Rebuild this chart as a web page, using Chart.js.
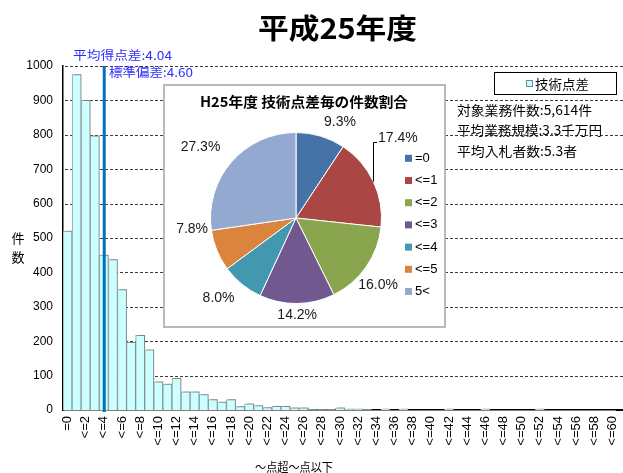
<!DOCTYPE html>
<html>
<head>
<meta charset="utf-8">
<script src="https://cdn.jsdelivr.net/npm/chart.js@4.4.1/dist/chart.umd.min.js"></script>
<style>
  html, body { margin: 0; padding: 0; background: #fff; }
  #wrap { position: relative; width: 623px; height: 473px; overflow: hidden; }
  #main { position: absolute; left: 0; top: 0; }
  #inset { position: absolute; left: 163px; top: 84px; width: 283px; height: 244px;
           box-sizing: border-box; border: 2px solid #b9b9b9; background: #fff; }
  #pie { position: absolute; left: 0; top: 0; }
</style>
</head>
<body>
<div id="wrap">
  <canvas id="main" width="623" height="473"></canvas>
  <div id="inset"><canvas id="pie" width="279" height="240"></canvas></div>
</div>
<script>
// Score-difference bins: "=0", "<=1" ... "<=60"
const scoreBins = ['=0'];
for (let k = 1; k <= 60; k++) scoreBins.push('<=' + k);

// Number of contracts in each bin (total 5,614)
const binCounts = [
  520, 975, 900, 797, 450, 437, 350, 197, 217, 175,
   82,  75,  92,  53,  53,  45,  30,  23,  30,  10,
   18,  13,   7,  11,  11,   6,   6,   1,   1,   1,
    6,   3,   3,   1,   0,   3,   0,   3,   0,   0,
    0,   0,   3,   0,   0,   0,   3,   0,   0,   0,
    0,   0,   3,   0,   0,   0,   0,   0,   0,   0,
    0
];

const meanScore = 4.04;
const stdDev = 4.60;

// Share of contracts per bin, in percent
const pieLabels = ['=0', '<=1', '<=2', '<=3', '<=4', '<=5', '5<'];
const pieShares = [9.3, 17.4, 16.0, 14.2, 8.0, 7.8, 27.3];
const pieColors = ['#4572A7', '#AA4643', '#89A54E', '#71588F', '#4198AF', '#DB843D', '#93A9CF'];

const infoLines = ['対象業務件数:5,614件', '平均業務規模:3.3千万円', '平均入札者数:5.3者'];

const JP = "'Noto Sans CJK JP', sans-serif";
const LAT = "'Liberation Sans', Arial, sans-serif";
Chart.defaults.font.family = LAT;
Chart.defaults.color = '#000';

// draw text squeezed/stretched horizontally to a given width
function fitText(ctx, text, x, y, width, align) {
  const m = ctx.measureText(text).width;
  ctx.save();
  ctx.translate(x, y);
  ctx.scale(width / m, 1);
  ctx.textAlign = align || 'left';
  ctx.fillText(text, 0, 0);
  ctx.restore();
}

const barShadow = {
  id: 'barShadow',
  beforeDatasetDraw(chart) {
    const ctx = chart.ctx;
    ctx.save();
    ctx.shadowColor = 'rgba(90,90,90,0.35)';
    ctx.shadowOffsetX = 2;
    ctx.shadowOffsetY = -1;
    ctx.shadowBlur = 0;
  },
  afterDatasetDraw(chart) { chart.ctx.restore(); }
};

const mainDecor = {
  id: 'mainDecor',
  beforeDatasetsDraw(chart) {
    // dashed value gridlines (3px dash, 2px gap) behind the bars
    const { ctx, chartArea, scales } = chart;
    const ys = scales.y;
    ctx.save();
    ctx.fillStyle = '#3c3c3c';
    ys.ticks.forEach(t => {
      if (t.value === 0) return;
      const py = Math.round(ys.getPixelForValue(t.value));
      for (let x = Math.round(chartArea.left) + 2; x < chart.width; x += 5) {
        ctx.fillRect(x, py, 3, 1);
      }
    });
    ctx.restore();
  },
  afterDraw(chart) {
    const { ctx, chartArea, scales } = chart;
    const xs = scales.x;
    ctx.save();
    // axis line continues to the canvas edge
    ctx.fillStyle = '#000';
    ctx.fillRect(chartArea.right - 1, Math.round(chartArea.bottom) - 1, chart.width - chartArea.right + 1, 2);

    ctx.textBaseline = 'middle';

    // mean line
    const base = Math.floor(meanScore);
    const p4 = xs.getPixelForValue(base);
    const p5 = xs.getPixelForValue(base + 1);
    const mx = p4 + (meanScore - base) * (p5 - p4);
    ctx.strokeStyle = '#0070C0';
    ctx.lineWidth = 3;
    ctx.beginPath(); ctx.moveTo(mx, chartArea.top); ctx.lineTo(mx, chartArea.bottom + 2); ctx.stroke();

    // title
    ctx.fillStyle = '#000';
    ctx.font = 'bold 28px ' + JP;
    fitText(ctx, '平成25年度', 337.5, 28, 159, 'center');

    // mean / deviation labels
    ctx.fillStyle = '#2e2eff';
    ctx.font = '12px ' + JP;
    fitText(ctx, '平均得点差:' + meanScore.toFixed(2), 73, 55, 99);
    fitText(ctx, '標準偏差:' + stdDev.toFixed(2), 109, 72, 84);

    // legend box
    ctx.fillStyle = '#fff';
    ctx.fillRect(494, 72, 123, 23);
    ctx.strokeStyle = '#000';
    ctx.lineWidth = 1;
    ctx.strokeRect(494.5, 72.5, 122, 22);
    const ds = chart.data.datasets[0];
    ctx.fillStyle = ds.backgroundColor;
    ctx.fillRect(526, 80, 7, 7);
    ctx.strokeStyle = '#6a8a9a';
    ctx.strokeRect(526.5, 80.5, 6, 6);
    ctx.fillStyle = '#000';
    ctx.font = '13px ' + JP;
    fitText(ctx, ds.label, 535, 84, 54);

    // summary lines
    ctx.font = '13px ' + JP;
    const widths = [135, 145, 120];
    infoLines.forEach((s, i) => fitText(ctx, s, 457, 110 + i * 20.5, widths[i]));

    // axis titles
    ctx.font = '13px ' + JP;
    ctx.textAlign = 'center';
    ctx.fillText('件', 18, 238);
    ctx.fillText('数', 18, 257);
    ctx.font = '12px ' + JP;
    fitText(ctx, '～点超～点以下', 294, 467, 78, 'center');
    ctx.restore();
  }
};

new Chart(document.getElementById('main'), {
  type: 'bar',
  data: {
    labels: scoreBins,
    datasets: [{
      label: '技術点差',
      data: binCounts,
      backgroundColor: '#CCFFFF',
      borderColor: '#8e9e9e',
      borderWidth: 1,
      barPercentage: 1,
      categoryPercentage: 1
    }]
  },
  options: {
    responsive: false,
    animation: false,
    events: [],
    layout: { padding: { top: 66, right: 6, left: 0, bottom: 0 } },
    plugins: { legend: { display: false }, title: { display: false }, tooltip: { enabled: false } },
    scales: {
      x: {
        grid: { display: false, drawTicks: false },
        border: { display: true, color: '#000', width: 1.5 },
        ticks: {
          autoSkip: false, maxRotation: 90, minRotation: 90, padding: 6,
          font: { size: 13 },
          callback: (v, i) => (i % 2 === 0 ? scoreBins[i] : '')
        },
        afterFit: s => { s.height = 63; s.paddingLeft = 0; s.paddingRight = 0; }
      },
      y: {
        min: 0, max: 1000,
        ticks: { stepSize: 100, padding: 10, font: { size: 12 }, callback: v => String(v) },
        grid: { display: false, drawTicks: false },
        border: { display: true, color: '#000', width: 1.5 },
        afterFit: s => { s.width = 63; s.paddingTop = 0; s.paddingBottom = 0; }
      }
    }
  },
  plugins: [barShadow, mainDecor]
});

// label offsets for the percentage texts around the pie
const labelNudge = [[15, 1], [2, -33], [-8, 4], [0, 0], [-11, -1], [-5, -29], [-13, 1]];
const labelLeader = [false, true, false, false, false, false, false];

const pieDecor = {
  id: 'pieDecor',
  afterDraw(chart) {
    const ctx = chart.ctx;
    ctx.save();
    ctx.textBaseline = 'middle';
    ctx.fillStyle = '#000';
    ctx.font = 'bold 14px ' + JP;
    fitText(ctx, 'H25年度 技術点差毎の件数割合', 139, 16, 208, 'center');

    // legend
    ctx.font = '13px ' + LAT;
    chart.data.labels.forEach((lab, i) => {
      const y = 72.3 + i * 22.2;
      ctx.fillStyle = pieColors[i];
      ctx.fillRect(240, y - 3.5, 7, 7);
      ctx.fillStyle = '#000';
      ctx.textAlign = 'left';
      ctx.fillText(lab, 250, y);
    });

    // percentage labels
    ctx.font = '14px ' + LAT;
    ctx.fillStyle = '#1a1a1a';
    ctx.textAlign = 'center';
    const meta = chart.getDatasetMeta(0);
    meta.data.forEach((arc, i) => {
      const p = arc.getProps(['x', 'y', 'startAngle', 'endAngle', 'outerRadius'], true);
      const mid = (p.startAngle + p.endAngle) / 2;
      const text = pieShares[i].toFixed(1) + '%';
      const w = ctx.measureText(text).width, h = 14;
      const c = Math.cos(mid), s = Math.sin(mid);
      const d = p.outerRadius + 4 + Math.abs(c) * w / 2 + Math.abs(s) * h / 2;
      const lx = p.x + c * d + labelNudge[i][0];
      const ly = p.y + s * d + labelNudge[i][1];
      ctx.fillText(text, lx, ly);
      if (labelLeader[i]) {
        const ax = p.x + c * p.outerRadius, ay = p.y + s * p.outerRadius;
        ctx.strokeStyle = '#000';
        ctx.lineWidth = 1;
        ctx.beginPath();
        ctx.moveTo(Math.round(ax) + 0.5, ay);
        ctx.lineTo(Math.round(ax) + 0.5, Math.round(ly + 4) + 0.5);
        ctx.lineTo(lx - w / 2 - 1, Math.round(ly + 4) + 0.5);
        ctx.stroke();
      }
    });
    ctx.restore();
  }
};

new Chart(document.getElementById('pie'), {
  type: 'pie',
  data: {
    labels: pieLabels,
    datasets: [{ data: pieShares, backgroundColor: pieColors, borderColor: '#fff', borderWidth: 1 }]
  },
  options: {
    responsive: false,
    animation: false,
    events: [],
    layout: { padding: { left: 45, top: 46, right: 62, bottom: 22 } },
    plugins: { legend: { display: false }, title: { display: false }, tooltip: { enabled: false } }
  },
  plugins: [pieDecor]
});
</script>
</body>
</html>
